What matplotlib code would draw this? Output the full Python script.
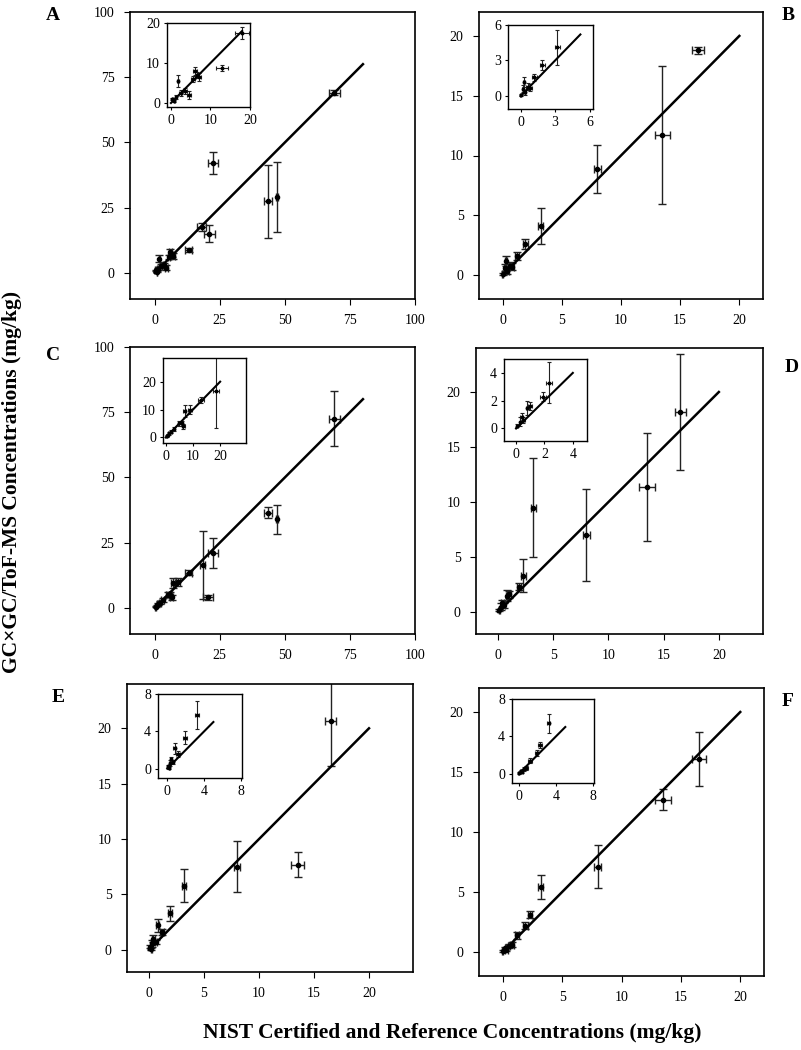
import matplotlib
matplotlib.use('Agg')
import matplotlib.pyplot as plt
import numpy as np

plt.rcParams['font.family'] = ['Liberation Serif', 'DejaVu Serif']

# panel A
a_x = [0.3, 0.8, 1.2, 1.8, 2.5, 3.5, 4.5, 5.5, 6.0, 6.5, 7.0, 13.0, 18.0, 21.0, 22.5, 43.5, 47.0, 69.0]
a_y = [1.0, 0.5, 1.5, 5.5, 2.5, 3.0, 2.0, 6.0, 8.0, 7.0, 6.5, 8.8, 17.5, 15.0, 42.0, 27.5, 29.0, 69.0]
a_xerr = [0.1, 0.1, 0.2, 0.3, 0.4, 0.5, 0.5, 0.5, 0.5, 0.5, 0.6, 1.5, 1.8, 2.0, 2.0, 1.5, 0.5, 2.0]
a_yerr = [0.3, 0.3, 0.5, 1.5, 0.8, 0.8, 1.0, 0.8, 1.0, 0.8, 1.0, 0.8, 1.5, 3.2, 4.2, 14.0, 13.5, 1.0]

# panel B
b_x = [0.0, 0.2, 0.3, 0.4, 0.6, 0.8, 1.2, 1.9, 3.2, 8.0, 13.5, 16.5]
b_y = [0.1, 0.6, 1.2, 0.3, 0.8, 0.7, 1.6, 2.6, 4.1, 8.9, 11.7, 18.8]
b_xerr = [0.05, 0.05, 0.1, 0.1, 0.1, 0.15, 0.2, 0.2, 0.2, 0.3, 0.65, 0.5]
b_yerr = [0.1, 0.3, 0.4, 0.2, 0.3, 0.3, 0.3, 0.4, 1.5, 2.0, 5.75, 0.3]

# panel C
c_x = [0.3, 0.8, 1.2, 2.0, 3.0, 5.0, 6.0, 6.5, 7.0, 9.0, 13.0, 18.5, 20.5, 22.5, 43.5, 47.0, 69.0]
c_y = [0.5, 1.0, 1.5, 2.0, 3.0, 5.0, 5.0, 4.0, 9.5, 10.0, 13.5, 16.5, 4.0, 21.0, 36.5, 34.0, 72.5]
c_xerr = [0.1, 0.1, 0.2, 0.3, 0.4, 0.5, 0.5, 0.5, 0.6, 0.8, 1.2, 1.0, 2.0, 2.0, 1.5, 0.5, 2.0]
c_yerr = [0.3, 0.3, 0.5, 0.5, 0.8, 1.0, 1.0, 0.8, 2.0, 1.5, 1.0, 13.0, 0.8, 5.8, 2.0, 5.5, 10.5]

# panel D
d_x = [0.1, 0.3, 0.4, 0.5, 0.8, 1.0, 1.9, 2.3, 3.2, 8.0, 13.5, 16.5]
d_y = [0.2, 0.5, 0.8, 0.6, 1.5, 1.6, 2.3, 3.3, 9.5, 7.0, 11.4, 18.2]
d_xerr = [0.05, 0.05, 0.1, 0.1, 0.1, 0.15, 0.2, 0.2, 0.2, 0.3, 0.7, 0.5]
d_yerr = [0.1, 0.3, 0.3, 0.2, 0.5, 0.3, 0.3, 1.5, 4.5, 4.2, 4.9, 5.3]

# panel E
e_x = [0.1, 0.2, 0.3, 0.4, 0.6, 0.8, 1.2, 1.9, 3.2, 8.0, 13.5, 16.5]
e_y = [0.3, 0.1, 0.6, 1.0, 0.7, 2.2, 1.6, 3.3, 5.8, 7.5, 7.7, 20.7]
e_xerr = [0.05, 0.05, 0.1, 0.1, 0.1, 0.15, 0.2, 0.2, 0.2, 0.3, 0.6, 0.5]
e_yerr = [0.1, 0.1, 0.3, 0.3, 0.2, 0.6, 0.3, 0.7, 1.5, 2.3, 1.15, 4.1]

# panel F
f_x = [0.0, 0.2, 0.3, 0.5, 0.8, 1.2, 1.9, 2.3, 3.2, 8.0, 13.5, 16.5]
f_y = [0.1, 0.3, 0.2, 0.5, 0.6, 1.4, 2.2, 3.1, 5.4, 7.1, 12.7, 16.1]
f_xerr = [0.05, 0.05, 0.1, 0.1, 0.15, 0.2, 0.2, 0.2, 0.2, 0.3, 0.7, 0.6]
f_yerr = [0.1, 0.1, 0.1, 0.2, 0.2, 0.3, 0.3, 0.3, 1.0, 1.8, 0.85, 2.25]

# inset shows only the points up to this x
inset_cut = {'A': 18.0, 'B': 3.2, 'C': 18.5, 'D': 2.3, 'E': 3.2, 'F': 3.2}

# name, data, main limits/ticks/line end, inset limits/ticks/line end, px boxes
panels = [
    ('A', a_x, a_y, a_xerr, a_yerr, (-9.5, 98.5), (-10, 100), [0, 25, 50, 75, 100], 80,
     (-1, 20), (-1, 20), [0, 10, 20], 18, (130, 12, 415, 299), (167, 23, 250, 107), (53, 15)),
    ('B', b_x, b_y, b_xerr, b_yerr, (-2, 22), (-2, 22), [0, 5, 10, 15, 20], 20,
     (-1.1, 6.3), (-1.1, 6), [0, 3, 6], 5.2, (479, 12, 763, 299), (508, 25, 593, 109), (788, 15)),
    ('C', c_x, c_y, c_xerr, c_yerr, (-9.5, 98.5), (-10, 100), [0, 25, 50, 75, 100], 80,
     (-1, 29.5), (-2, 28.5), [0, 10, 20], 20, (130, 347, 415, 634), (163, 358, 246, 443), (53, 355)),
    ('D', d_x, d_y, d_xerr, d_yerr, (-2, 24), (-2, 24), [0, 5, 10, 15, 20], 20,
     (-0.85, 5), (-0.9, 5), [0, 2, 4], 4, (476, 348, 763, 634), (504, 359, 587, 441), (792, 367)),
    ('E', e_x, e_y, e_xerr, e_yerr, (-2, 24), (-2, 24), [0, 5, 10, 15, 20], 20,
     (-1, 8.1), (-1, 8), [0, 4, 8], 5, (127, 684, 413, 972), (158, 694, 242, 778), (58, 697)),
    ('F', f_x, f_y, f_xerr, f_yerr, (-2, 22), (-2, 22), [0, 5, 10, 15, 20], 20,
     (-0.75, 8.1), (-1, 8), [0, 4, 8], 5, (479, 688, 764, 976), (512, 699, 594, 783), (788, 702)),
]

W, H = 801, 1050
fig = plt.figure(figsize=(W / 100, H / 100), dpi=100)


def px_box(b):
    l, t, r, bt = b
    return [l / W, 1 - bt / H, (r - l) / W, (bt - t) / H]


for (name, x, y, xe, ye, xl, yl, ticks, lmax,
     ixl, iyl, iticks, ilmax, box, ibox, lab) in panels:
    ax = fig.add_axes(px_box(box))
    ax.errorbar(x, y, xerr=xe, yerr=ye, fmt='o', ms=3, color='black',
                ecolor='#222222', elinewidth=1, capsize=3, capthick=1)
    ax.plot([0, lmax], [0, lmax], color='black', lw=1.8)
    ax.set_xlim(xl)
    ax.set_ylim(yl)
    ax.set_xticks(ticks)
    ax.set_yticks(ticks)
    ax.tick_params(direction='out', length=4, labelsize=10, top=False, right=False, pad=7)
    for s in ax.spines.values():
        s.set_linewidth(1.2)

    # inset, low concentration part
    keep = np.array(x) <= inset_cut[name]
    ins = fig.add_axes(px_box(ibox))
    ins.errorbar(np.array(x)[keep], np.array(y)[keep],
                 xerr=np.array(xe)[keep], yerr=np.array(ye)[keep],
                 fmt='o', ms=1.8, color='black',
                 ecolor='#222222', elinewidth=0.8, capsize=1.5, capthick=0.8)
    ins.plot([0, ilmax], [0, ilmax], color='black', lw=1.5)
    ins.set_xlim(ixl)
    ins.set_ylim(iyl)
    ins.set_xticks(iticks)
    ins.set_yticks(iticks)
    ins.tick_params(direction='out', length=2, labelsize=10, pad=3)
    for s in ins.spines.values():
        s.set_linewidth(1.0)

    fig.text(lab[0] / W, 1 - lab[1] / H, name, fontsize=14, fontweight='bold',
             ha='center', va='center')

fig.text(452 / W, 1 - 1033 / H, 'NIST Certified and Reference Concentrations (mg/kg)',
         fontsize=15.5, fontweight='bold', ha='center', va='center')
fig.text(12 / W, 1 - 482 / H, 'GC×GC/ToF-MS Concentrations (mg/kg)',
         fontsize=15.5, fontweight='bold', ha='center', va='center', rotation=90)

fig.savefig('out.png', dpi=100)
